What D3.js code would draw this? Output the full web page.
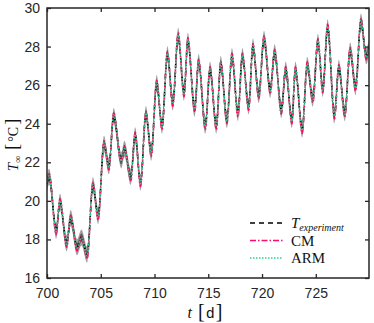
<!DOCTYPE html>
<html>
<head>
<meta charset="utf-8">
<script src="https://cdn.jsdelivr.net/npm/d3@7.9.0/dist/d3.min.js"></script>
<style>
  body { margin: 0; background: #fff; }
  svg { display: block; }
  .tick text { font-family: "Liberation Sans", Arial, sans-serif; font-size: 14px; fill: #262626; }
  .serif { font-family: "Liberation Serif", "DejaVu Serif", serif; fill: #111; }
</style>
</head>
<body>
<svg id="chart" width="374" height="323"></svg>
<script>
// daily peaks / troughs
const times = [700.0, 700.2, 700.86, 701.2, 701.83, 702.2, 702.8, 703.2, 703.74, 704.27,
  704.76, 705.3, 705.76, 706.2, 706.9, 707.2, 707.8, 708.2, 708.7, 709.2,
  709.7, 710.2, 710.7, 711.2, 711.7, 712.2, 712.75, 713.1, 713.74, 714.1,
  714.73, 715.16, 715.75, 716.16, 716.74, 717.2, 717.76, 718.17, 718.76, 719.15,
  719.7, 720.18, 720.77, 721.17, 721.8, 722.2, 722.78, 723.1, 723.74, 724.2,
  724.73, 725.2, 725.65, 726.1, 726.74, 727.14, 727.7, 728.2, 728.7, 729.2,
  729.7, 729.95];

const tempExp = [20.9, 21.25, 18.45, 19.95, 17.8, 19.1, 17.6, 18.1, 17.2, 20.8,
  19.2, 22.95, 21.8, 24.4, 22.1, 22.7, 21.25, 23.4, 20.95, 24.5,
  22.5, 26.1, 23.9, 27.6, 25.1, 28.55, 25.6, 28.3, 24.8, 27.2,
  23.9, 26.8, 23.9, 27.1, 24.2, 27.5, 24.55, 27.5, 24.9, 28.0,
  25.5, 28.4, 25.75, 27.7, 24.7, 26.8, 24.2, 26.8, 23.7, 27.05,
  25.3, 28.25, 25.8, 29.0, 24.45, 26.9, 24.55, 27.8, 25.9, 29.3,
  27.5, 28.0];

const tempCM = [21.0, 21.4, 18.25, 20.1, 17.6, 19.25, 17.4, 18.2, 17.0, 20.95,
  19.0, 23.1, 21.6, 24.55, 21.95, 22.8, 21.05, 23.55, 20.75, 24.65,
  22.3, 26.25, 23.7, 27.75, 24.9, 28.7, 25.4, 28.45, 24.6, 27.35,
  23.7, 26.95, 23.7, 27.25, 24.0, 27.65, 24.35, 27.65, 24.7, 28.15,
  25.3, 28.55, 25.55, 27.85, 24.5, 26.95, 24.0, 26.95, 23.5, 27.2,
  25.1, 28.4, 25.6, 29.15, 24.25, 27.05, 24.35, 27.95, 25.7, 29.45,
  27.3, 27.95];

const tempARM = [20.95, 21.3, 18.4, 20.0, 17.75, 19.15, 17.55, 18.1, 17.15, 20.85,
  19.15, 23.0, 21.75, 24.45, 22.05, 22.7, 21.2, 23.45, 20.9, 24.55,
  22.45, 26.15, 23.85, 27.65, 25.05, 28.6, 25.55, 28.35, 24.75, 27.25,
  23.85, 26.85, 23.85, 27.15, 24.15, 27.55, 24.5, 27.55, 24.85, 28.05,
  25.45, 28.45, 25.7, 27.75, 24.65, 26.85, 24.15, 26.85, 23.65, 27.1,
  25.25, 28.3, 25.75, 29.05, 24.4, 26.95, 24.5, 27.85, 25.85, 29.35,
  27.45, 27.95];

const expUncertainty = 0.42;

const xTicks = [700, 705, 710, 715, 720, 725];
const yTicks = [16, 18, 20, 22, 24, 26, 28, 30];

const margin = { top: 8, right: 5, bottom: 45, left: 47 };
const width = 374 - margin.left - margin.right;
const height = 323 - margin.top - margin.bottom;

const svg = d3.select('#chart');
const g = svg.append('g').attr('transform', `translate(${margin.left},${margin.top})`);

const x = d3.scaleLinear().domain([700, 729.95]).range([0, width]);
const y = d3.scaleLinear().domain([16, 30]).range([height, 0]);

svg.append('defs').append('clipPath').attr('id', 'clip')
  .append('rect').attr('width', width).attr('height', height);

const plot = g.append('g').attr('clip-path', 'url(#clip)');

let rows = times.map((t, i) => ({ t: t, e: tempExp[i], cm: tempCM[i], arm: tempARM[i] }));

// gray uncertainty band (soft outer, darker inner)
plot.append('path').datum(rows)
  .attr('d', d3.area().x((d) => x(d.t))
    .y0((d) => y(d.e - expUncertainty))
    .y1((d) => y(d.e + expUncertainty))
    .curve(d3.curveMonotoneX))
  .attr('fill', '#8a8a8a')
  .attr('opacity', 0.8);

plot.append('path').datum(rows)
  .attr('d', d3.area().x((d) => x(d.t))
    .y0((d) => y(d.e - expUncertainty * 0.5))
    .y1((d) => y(d.e + expUncertainty * 0.5))
    .curve(d3.curveMonotoneX))
  .attr('fill', '#444')
  .attr('opacity', 0.85);

function lineFor(key) {
  return d3.line().x((d) => x(d.t)).y((d) => y(d[key])).curve(d3.curveMonotoneX);
}

const series = [
  { key: 'e', color: '#000000', dash: '5,4', label: 'exp' },
  { key: 'cm', color: '#ff0a6c', dash: '6,2,1.5,2', label: 'CM' },
  { key: 'arm', color: '#2bd48e', dash: '1.5,1.5', label: 'ARM' }
];

series.forEach((s) => {
  plot.append('path').datum(rows)
    .attr('d', lineFor(s.key))
    .attr('fill', 'none')
    .attr('stroke', s.color)
    .attr('stroke-width', 1.6)
    .attr('stroke-dasharray', s.dash);
});

// frame + axes (ticks inward)
const axisColor = '#262626';
g.append('rect').attr('width', width).attr('height', height)
  .attr('fill', 'none').attr('stroke', axisColor).attr('stroke-width', 1.5);

let xAxis = g.append('g').attr('transform', `translate(0,${height})`)
  .call(d3.axisBottom(x).tickValues(xTicks).tickSize(-4).tickPadding(10).tickFormat(d3.format('d')));
let xAxisTop = g.append('g')
  .call(d3.axisTop(x).tickValues(xTicks).tickSize(-4).tickFormat(''));
let yAxis = g.append('g')
  .call(d3.axisLeft(y).tickValues(yTicks).tickSize(-4).tickPadding(7).tickFormat(d3.format('d')));
let yAxisRight = g.append('g').attr('transform', `translate(${width},0)`)
  .call(d3.axisRight(y).tickValues(yTicks).tickSize(-4).tickFormat(''));

[xAxis, xAxisTop, yAxis, yAxisRight].forEach((a) => {
  a.select('.domain').remove();
  a.selectAll('.tick line').attr('stroke', axisColor).attr('stroke-width', 1.3);
});
xAxis.selectAll('.tick text').attr('dy', '0.71em');

// x label: t [ d ]
const xl = svg.append('text').attr('class', 'serif')
  .attr('x', 205).attr('y', 318)
  .attr('text-anchor', 'middle').attr('font-size', 16);
xl.append('tspan').attr('font-style', 'italic').text('t');
xl.append('tspan').attr('font-size', 20).attr('dx', 6).text('[');
xl.append('tspan').attr('font-family', '"Liberation Mono", monospace').attr('font-size', 15).attr('dx', 1).text('d');
xl.append('tspan').attr('font-size', 20).attr('dx', 1).text(']');

// y label: T_inf [ °C ]
const yl = svg.append('text').attr('class', 'serif')
  .attr('transform', `translate(18,145) rotate(-90)`)
  .attr('text-anchor', 'middle').attr('font-size', 15);
yl.append('tspan').attr('font-style', 'italic').text('T');
yl.append('tspan').attr('font-size', 10).attr('dy', 3).text('∞');
yl.append('tspan').attr('font-size', 18).attr('dy', -3).attr('dx', 6).text('[');
yl.append('tspan').attr('font-size', 14).attr('dx', 2).text('°C');
yl.append('tspan').attr('font-size', 18).attr('dx', 2).text(']');

// legend
const legendRows = [223, 240.5, 258];
const legend = svg.append('g');
series.forEach((s, i) => {
  legend.append('line')
    .attr('x1', 250).attr('x2', 283)
    .attr('y1', legendRows[i]).attr('y2', legendRows[i])
    .attr('stroke', s.color).attr('stroke-width', 1.6)
    .attr('stroke-dasharray', s.dash);
  const t = legend.append('text').attr('class', 'serif')
    .attr('x', 291).attr('y', legendRows[i] + 5).attr('font-size', 15);
  if (s.key === 'e') {
    t.append('tspan').attr('font-style', 'italic').text('T');
    t.append('tspan').attr('font-style', 'italic').attr('font-size', 10).attr('dy', 3).text('experiment');
  } else {
    t.text(s.label);
  }
});
</script>
</body>
</html>
